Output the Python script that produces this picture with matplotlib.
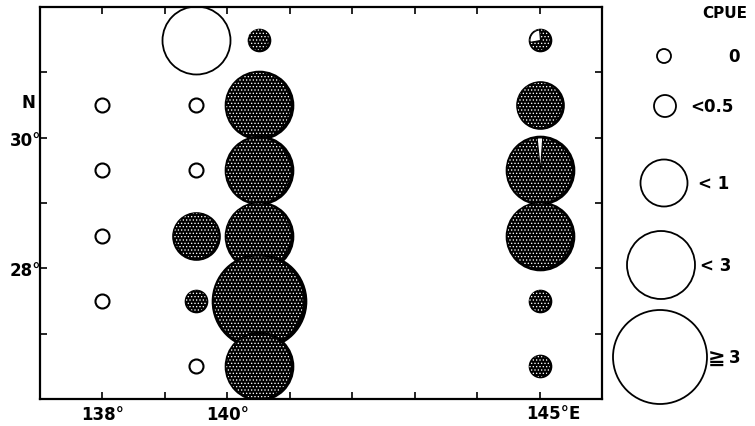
import numpy as np
import matplotlib.pyplot as plt
from matplotlib.path import Path
from matplotlib.patches import Circle

plt.rcParams['hatch.color'] = 'white'
plt.rcParams['hatch.linewidth'] = 0.55
plt.rcParams['font.family'] = ['DejaVu Sans', 'Noto Sans CJK JP']
plt.rcParams['font.weight'] = 'bold'

# stations (deg E, deg N) and their CPUE class
# class: 0 -> 0, 1 -> <0.5, 2 -> <1, 3 -> <3, 4 -> >=3
lon = [138, 138, 138, 138,
       139.5, 139.5, 139.5, 139.5, 139.5, 139.5,
       140.5, 140.5, 140.5, 140.5, 140.5, 140.5,
       145, 145, 145, 145, 145, 145]
lat = [30.5, 29.5, 28.5, 27.5,
       31.5, 30.5, 29.5, 28.5, 27.5, 26.5,
       31.5, 30.5, 29.5, 28.5, 27.5, 26.5,
       31.5, 30.5, 29.5, 28.5, 27.5, 26.5]
cpue_class = [0, 0, 0, 0,
              3, 0, 0, 2, 1, 0,
              1, 3, 3, 3, 4, 3,
              1, 2, 3, 3, 1, 1]
shaded = [False, False, False, False,
          False, False, False, True, True, False,
          True, True, True, True, True, True,
          True, True, True, True, True, True]

# unshaded sectors (start, end angle in degrees) at some 145E stations
wedge_lon = [145, 145]
wedge_lat = [31.5, 29.5]
wedge_class = [1, 3]
wedge_angles = [(95, 190), (86, 96)]

class_labels = ['0', '<0.5', '< 1', '< 3', '≧3']
class_diam = [14, 22, 47, 68, 94]   # marker diameters in pixels

dpi = 100
fig = plt.figure(figsize=(7.55, 4.27), dpi=dpi)
ax = fig.add_axes([40 / 755, 1 - 400 / 427, 562 / 755, 392 / 427])
ax.set_xlim(137, 146)
ax.set_ylim(26, 32)


def area(d):
    # pixel diameter -> scatter size (points^2)
    return (d * 72 / dpi) ** 2


lon = np.array(lon)
lat = np.array(lat)
cls = np.array(cpue_class)
sh = np.array(shaded)
sizes = np.array([area(class_diam[c]) for c in cls])

for i in range(len(lon)):
    if sh[i]:
        ax.scatter(lon[i], lat[i], s=sizes[i], c='black', edgecolors='black',
                   linewidths=1.2, zorder=2 + i * 0.01)
        ax.scatter(lon[i], lat[i], s=sizes[i] * 0.9, facecolors='none',
                   edgecolors='white', hatch='.....', linewidths=0,
                   zorder=2 + i * 0.01 + 0.001)
    else:
        lw = 1.5 if cls[i] == 0 else 1.3
        ax.scatter(lon[i], lat[i], s=sizes[i], facecolors='white',
                   edgecolors='black', linewidths=lw, zorder=2 + i * 0.01)


def wedge_marker(a0, a1):
    t = np.radians(np.linspace(a0, a1, 60))
    # keep a vertex at 90/180 deg so the marker scales to the full radius
    extra = [a for a in (0, 90, 180, 270) if a0 <= a <= a1]
    t = np.sort(np.concatenate([t, np.radians(extra)]))
    verts = [(0, 0)] + [(np.cos(v), np.sin(v)) for v in t] + [(0, 0)]
    return Path(verts, closed=True)


for x, y, c, (a0, a1) in zip(wedge_lon, wedge_lat, wedge_class, wedge_angles):
    ax.scatter(x, y, s=area(class_diam[c]) * 0.92, marker=wedge_marker(a0, a1),
               facecolors='white', edgecolors='black', linewidths=0.8, zorder=5)

# frame and ticks
for sp in ax.spines.values():
    sp.set_linewidth(1.6)
ax.set_xticks(np.arange(138, 146))
ax.set_yticks(np.arange(27, 32))
ax.set_xticklabels(['138°', '', '140°', '', '', '', '', ''], fontsize=12)
ax.set_yticklabels(['', '28°', '', '30°', ''], fontsize=12)
ax.tick_params(direction='in', length=5, width=1.2, top=True, right=True)
ax.tick_params(axis='x', pad=4)
ax.tick_params(axis='y', pad=-1)
ax.text(145.22, -0.012, '145°E', transform=ax.get_xaxis_transform(),
        ha='center', va='top', fontsize=12)

# legend drawn in figure pixel coordinates
lax = fig.add_axes([0, 0, 1, 1])
lax.set_xlim(0, 755)
lax.set_ylim(427, 0)
lax.axis('off')
lax.patch.set_alpha(0)

lax.text(28, 103, 'N', ha='center', va='center', fontsize=12)

leg_x = [664, 665, 664, 661, 660]
leg_y = [57, 107, 184, 266, 358]
txt_x = [728, 690, 698, 700, 708]
lax.text(725, 14, 'CPUE', ha='center', va='center', fontsize=11)
for k in range(5):
    lax.add_patch(Circle((leg_x[k], leg_y[k]), class_diam[k] / 2,
                         facecolor='white', edgecolor='black', lw=1.3))
    lab = class_labels[k]
    if lab.startswith('≧'):
        # the relation sign is drawn larger than the digit
        lax.text(txt_x[k], leg_y[k] + 1, lab[0], ha='left', va='center',
                 fontsize=15)
        lax.text(txt_x[k] + 21, leg_y[k], lab[1:], ha='left', va='center',
                 fontsize=12)
    else:
        lax.text(txt_x[k], leg_y[k], lab, ha='left', va='center', fontsize=12)

fig.savefig('out.png', dpi=dpi)
